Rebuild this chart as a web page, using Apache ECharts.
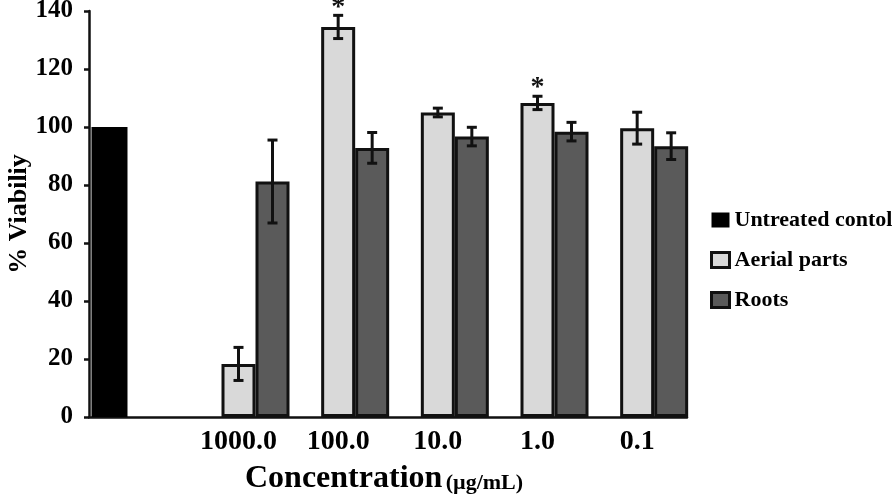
<!DOCTYPE html>
<html>
<head>
<meta charset="utf-8">
<script src="https://cdn.jsdelivr.net/npm/echarts@6/dist/echarts.min.js"></script>
<style>
html,body{margin:0;padding:0;background:#fff;}
#chart{width:896px;height:498px;}
</style>
</head>
<body>
<div id="chart"></div>
<script>
// ---- data ----
const categories = ['', '1000.0', '100.0', '10.0', '1.0', '0.1'];
const untreated = [100, '-', '-', '-', '-', '-'];
const aerial = ['-', 18.3, 134.5, 105.0, 108.3, 99.6];
const aerialErr = [0, 5.7, 4.0, 1.5, 2.3, 5.5];
const aerialSignificant = [false, false, true, false, true, false];
const roots = ['-', 81.2, 92.8, 96.7, 98.4, 93.4];
const rootsErr = [0, 14.3, 5.3, 3.2, 3.2, 4.6];
const yMin = 0, yMax = 140, yStep = 20;
const seriesNames = ['Untreated contol', 'Aerial parts', 'Roots'];
const xTitle = 'Concentration';
const xUnit = '(µg/mL)';
const yTitle = '% Viabiliy';

// ---- styles ----
const FONT = '"Liberation Serif", "Times New Roman", serif';
const BAR_W = 34;
const EDGE = '#111';
const C_UNT = '#000000';
const C_AER = '#d9d9d9';
const C_ROOT = '#5a5a5a';

function errData(vals, errs, sig) {
  const out = [];
  vals.forEach((v, i) => {
    if (v === '-' || v == null) return;
    out.push([i, v, errs[i], sig && sig[i] ? 1 : 0]);
  });
  return out;
}

function errRender(slot) {
  return function (params, api) {
    const i = api.value(0), v = api.value(1), e = api.value(2), s = api.value(3);
    const cx = api.coord([i, v])[0] + slot * BAR_W;
    const yT = api.coord([i, v + e])[1];
    const yB = api.coord([i, v - e])[1];
    const cap = 5;
    const st = { stroke: EDGE, lineWidth: 3 };
    const children = [
      { type: 'line', shape: { x1: cx, y1: yT, x2: cx, y2: yB }, style: st },
      { type: 'line', shape: { x1: cx - cap, y1: yT, x2: cx + cap, y2: yT }, style: st },
      { type: 'line', shape: { x1: cx - cap, y1: yB, x2: cx + cap, y2: yB }, style: st }
    ];
    if (s) {
      children.push({
        type: 'text',
        style: {
          text: '*', x: cx, y: yT - 8, align: 'center', verticalAlign: 'middle',
          font: 'bold 28px ' + FONT, fill: EDGE
        }
      });
    }
    return { type: 'group', children: children };
  };
}

const chart = echarts.init(document.getElementById('chart'), null, { renderer: 'canvas' });
const option = {
  backgroundColor: '#ffffff',
  animation: false,
  grid: { left: 89, right: 209, top: 11, bottom: 81, containLabel: false, outerBoundsMode: 'none' },
  legend: {
    orient: 'vertical',
    left: 705,
    top: 204,
    itemWidth: 18,
    itemHeight: 15,
    itemGap: 18,
    icon: 'rect',
    textStyle: { fontFamily: FONT, fontWeight: 'bold', fontSize: 22, color: '#000', lineHeight: 22 },
    data: [
      { name: seriesNames[0], itemStyle: { color: C_UNT, borderColor: EDGE, borderWidth: 0 } },
      { name: seriesNames[1], itemStyle: { color: C_AER, borderColor: EDGE, borderWidth: 3 } },
      { name: seriesNames[2], itemStyle: { color: C_ROOT, borderColor: EDGE, borderWidth: 3 } }
    ]
  },
  xAxis: [
    {
      type: 'category',
      data: categories,
      axisLine: { show: true, onZero: true, lineStyle: { color: EDGE, width: 2.5 } },
      axisTick: { show: false },
      axisLabel: { margin: 11, fontFamily: FONT, fontWeight: 'bold', fontSize: 28, color: '#000', interval: 0 },
      splitLine: { show: false }
    },
    {
      type: 'category',
      data: categories,
      show: false
    }
  ],
  yAxis: {
    type: 'value',
    min: yMin, max: yMax, interval: yStep,
    name: yTitle,
    nameLocation: 'middle',
    nameGap: 57,
    nameMoveOverlap: false,
    nameTextStyle: { fontFamily: FONT, fontWeight: 'bold', fontSize: 26, color: '#000' },
    axisLine: { show: true, lineStyle: { color: EDGE, width: 2.5 } },
    axisTick: { show: true, inside: false, length: 5, lineStyle: { color: EDGE, width: 2.5 } },
    axisLabel: { margin: 16, fontFamily: FONT, fontWeight: 'bold', fontSize: 25, color: '#000' },
    splitLine: { show: false }
  },
  series: [
    // slot placeholder so aerial sits at the category centre
    { name: '_slot', type: 'bar', xAxisIndex: 0, barWidth: BAR_W, barGap: '0%', data: categories.map(() => '-') },
    {
      name: seriesNames[1], type: 'bar', xAxisIndex: 0, barWidth: BAR_W, barGap: '0%',
      data: aerial,
      itemStyle: { color: C_AER, borderColor: EDGE, borderWidth: 3 }
    },
    {
      name: seriesNames[2], type: 'bar', xAxisIndex: 0, barWidth: BAR_W, barGap: '0%',
      data: roots,
      itemStyle: { color: C_ROOT, borderColor: EDGE, borderWidth: 3 }
    },
    {
      name: seriesNames[0], type: 'bar', xAxisIndex: 1, barWidth: 36, barGap: '63%',
      data: untreated,
      itemStyle: { color: C_UNT, borderWidth: 0 }
    },
    { name: '_shift', type: 'bar', xAxisIndex: 1, barWidth: 36, barGap: '63%', data: categories.map(() => '-') },
    {
      name: '_errA', type: 'custom', xAxisIndex: 0, z: 10, clip: false,
      renderItem: errRender(0), data: errData(aerial, aerialErr, aerialSignificant)
    },
    {
      name: '_errR', type: 'custom', xAxisIndex: 0, z: 10, clip: false,
      renderItem: errRender(1), data: errData(roots, rootsErr, null)
    }
  ],
  graphic: [
    {
      type: 'text',
      left: 245,
      top: 463,
      style: {
        text: '{a|' + xTitle + '} {b|' + xUnit + '}',
        rich: {
          a: { fontFamily: FONT, fontWeight: 'bold', fontSize: 32, fill: '#000', verticalAlign: 'bottom' },
          b: { fontFamily: FONT, fontWeight: 'bold', fontSize: 22, fill: '#000', verticalAlign: 'bottom', padding: [0, 0, 1, 0] }
        }
      }
    }
  ]
};
chart.setOption(option);
</script>
</body>
</html>
